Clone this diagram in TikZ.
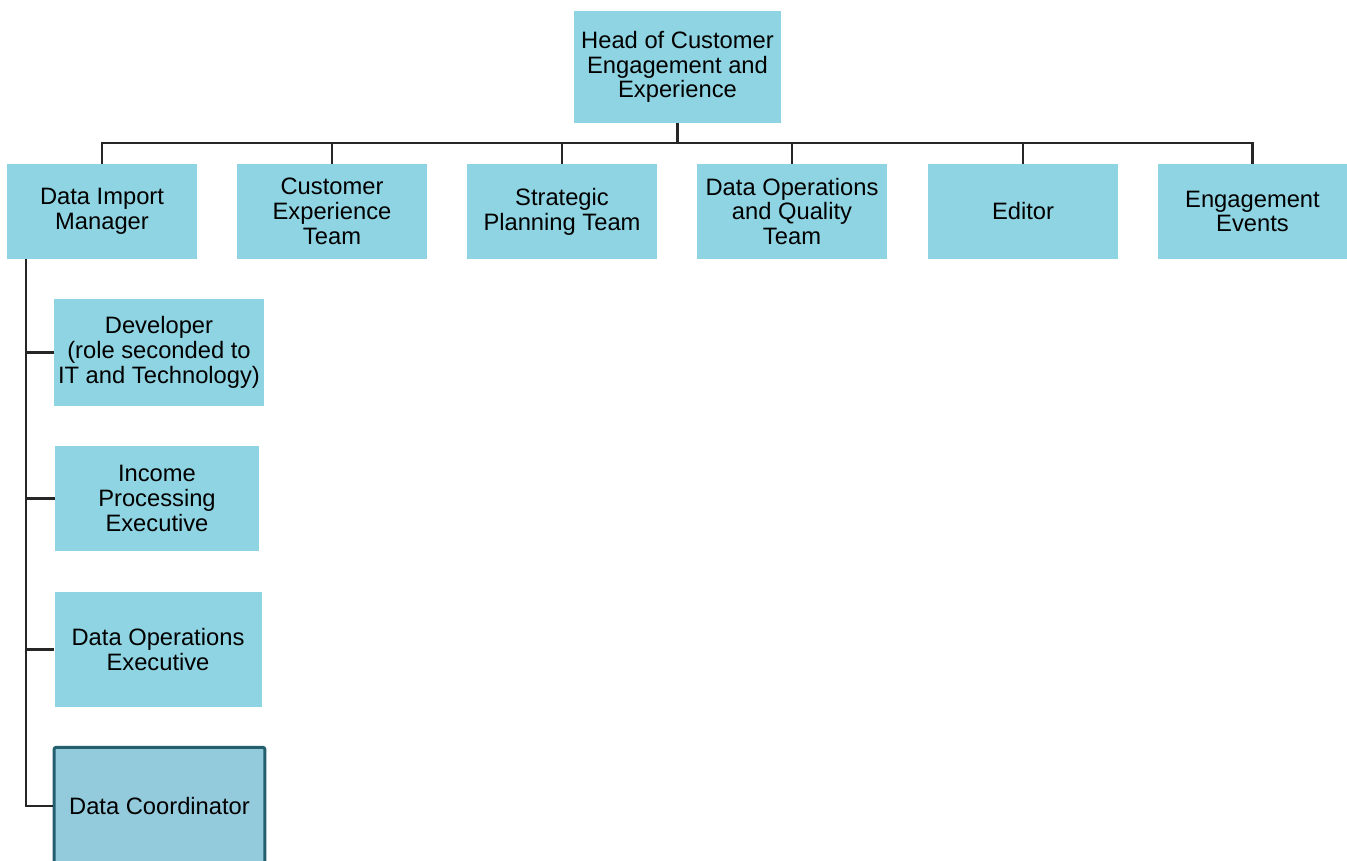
\documentclass[tikz,border=0pt]{standalone}
\usepackage{fontspec}
\setmainfont{Liberation Sans}
\usepackage{xcolor}
\usepackage{tikz}
\usetikzlibrary{positioning}
\definecolor{postblue}{HTML}{8FD4E2}
\definecolor{curblue}{HTML}{94CBDC}
\definecolor{curedge}{HTML}{245F6E}

\begin{document}
\begin{tikzpicture}[x=0.75pt,y=-0.75pt,
  post/.style={rectangle,fill=postblue,inner sep=0pt,align=center,minimum width=142.5pt,minimum height=71.25pt,font=\fontsize{17.8}{18.6}\selectfont},
  current/.style={post,fill=curblue,draw=curedge,line width=2.25pt,rounded corners=1.5pt},
  link/.style={draw=black!85,line width=1.9pt}
]
\useasboundingbox (0,0) rectangle (1347,861);
\clip (0,0) rectangle (1347,861);

% Top
\node[post,minimum width=155.25pt,minimum height=84pt] (head) at (677.5,67) {Head of Customer\\Engagement and\\Experience};

% Teams
\node[post] (dim) at (102,211.5)    {Data Import\\Manager};
\node[post] (cxt) at (332,211.5)    {Customer\\Experience\\Team};
\node[post] (spt) at (562,211.5)    {Strategic\\Planning Team};
\node[post] (doq) at (792,211.5)    {Data Operations\\and Quality\\Team};
\node[post] (edt) at (1023,211.5)   {Editor};
\node[post] (eev) at (1252.5,211.5) {Engagement\\Events};

% Reports of Data Import Manager
\node[post,minimum width=157.5pt,minimum height=80.25pt] (dev) at (159,352.5) {Developer\\(role seconded to\\IT and Technology)};
\node[post,minimum width=153pt,minimum height=78.75pt]   (ipe) at (157,498.5) {Income\\Processing\\Executive};
\node[post,minimum width=155.25pt,minimum height=86.25pt] (doe) at (158,649.5) {Data Operations\\Executive};
\node[current,minimum width=158pt,minimum height=88pt]   (dc)  at (159.5,806) {Data Coordinator};

% Lines
\coordinate (bus) at (677.5,143);
\draw[link] (head.south) -- (bus);
\foreach \n in {dim,cxt,spt,doq,edt,eev}
  \draw[link] (bus) -| (\n.north);

\coordinate (spine) at (26,259);
\draw[link] (spine) |- (dc.west);
\foreach \n in {dev,ipe,doe}
  \draw[link] (spine) |- (\n.west);

\end{tikzpicture}
\end{document}
